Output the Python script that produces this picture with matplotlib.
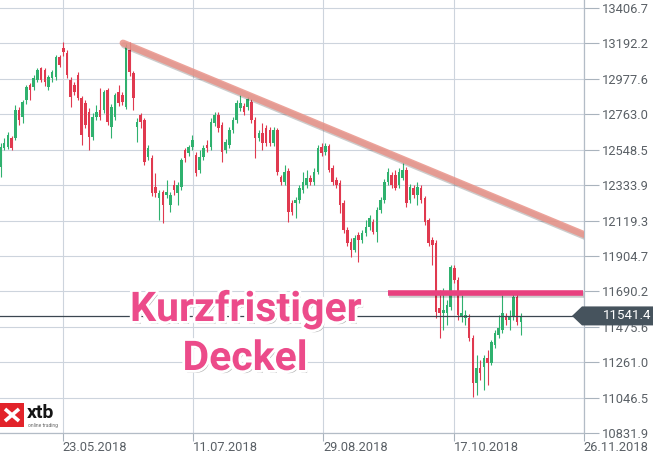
import matplotlib
matplotlib.use("Agg")
import matplotlib.pyplot as plt
import matplotlib.patheffects as pe
from matplotlib.patches import Polygon, Rectangle
import numpy as np

# ---------------- data (DE30 daily candles) ----------------
opens = [12444,12559,12565,12620,12620,12789,12747,12850,12941,12929,
         12971,13044,13032,12929,12983,12989,13111,13165,13135,12971,
         12941,13001,12862,12832,12777,12626,12747,12789,12789,12911,
         12686,12747,12898,12880,12808,13153,13014,12686,12759,12729,
         12505,12498,12323,12256,12292,12274,12214,12335,12286,12323,
         12547,12529,12565,12517,12426,12505,12577,12565,12711,12759,
         12698,12547,12577,12668,12729,12801,12814,12808,12838,12729,
         12620,12650,12680,12668,12589,12668,12383,12353,12420,12226,
         12226,12244,12305,12335,12377,12353,12414,12565,12535,12571,
         12438,12365,12347,12226,12062,11989,11941,12032,12001,12044,
         12080,12111,12050,12183,12244,12353,12395,12395,12335,12377,
         12426,12244,12317,12274,12317,12256,12123,12001,11983,11590,
         11559,11559,11596,11832,11759,11535,11529,11529,11408,11135,
         11226,11232,11286,11256,11365,11426,11456,11541,11517,11535,
         11656,11505]
highs = [12589,12620,12656,12632,12820,12808,12850,12941,12953,13001,
         13044,13050,13044,13001,13032,13123,13123,13201,13153,12989,
         12959,13020,12874,12850,12801,12771,12820,12923,12911,12923,
         12826,12892,12941,12898,13189,13201,13026,12741,12771,12741,
         12577,12517,12408,12305,12305,12365,12292,12365,12353,12498,
         12559,12577,12638,12535,12547,12577,12608,12741,12777,12777,
         12717,12614,12686,12747,12850,12880,12832,12868,12856,12747,
         12668,12711,12698,12686,12686,12680,12395,12456,12438,12244,
         12262,12335,12414,12426,12395,12438,12577,12589,12589,12583,
         12456,12383,12365,12244,12080,12014,12032,12050,12062,12123,
         12153,12129,12202,12262,12371,12438,12414,12426,12438,12468,
         12444,12341,12335,12353,12335,12268,12135,12020,12001,11699,
         11711,11638,11850,11850,11777,11668,11577,11553,11426,11305,
         11274,11305,11335,11396,11456,11547,11668,11559,11577,11674,
         11674,11559]
lows = [12383,12547,12553,12547,12608,12698,12711,12826,12850,12911,
        12959,12959,12935,12911,12959,12971,13050,13117,12983,12808,
        12880,12850,12577,12680,12547,12608,12729,12729,12771,12698,
        12620,12729,12814,12820,12795,12995,12789,12595,12680,12456,
        12486,12268,12262,12123,12105,12256,12171,12274,12214,12305,
        12474,12511,12547,12389,12408,12486,12535,12547,12692,12656,
        12474,12529,12559,12650,12711,12783,12759,12789,12711,12498,
        12601,12547,12571,12571,12571,12395,12335,12335,12111,12153,
        12135,12226,12286,12317,12335,12335,12402,12511,12517,12414,
        12335,12317,12165,12044,11965,11899,11929,11868,11983,12026,
        12062,12038,11989,12165,12226,12335,12317,12305,12317,12365,
        12202,12226,12256,12214,12226,12092,11965,11850,11529,11408,
        11456,11486,11577,11741,11517,11505,11486,11390,11050,11062,
        11153,11093,11123,11244,11347,11408,11438,11486,11456,11517,
        11486,11426]
closes = [12565,12589,12638,12559,12789,12729,12838,12929,12911,12983,
          13032,12971,12959,12989,13020,13111,13062,13141,13001,12868,
          12898,12862,12638,12698,12626,12747,12777,12747,12898,12717,
          12808,12880,12832,12838,13171,13020,12862,12717,12717,12474,
          12559,12286,12286,12286,12214,12292,12274,12305,12335,12486,
          12498,12565,12608,12408,12505,12559,12559,12717,12759,12680,
          12535,12595,12668,12729,12832,12832,12777,12856,12729,12620,
          12650,12589,12589,12589,12668,12414,12353,12414,12171,12171,
          12244,12317,12353,12377,12353,12414,12559,12529,12571,12426,
          12353,12335,12214,12062,11983,11941,12014,12001,12044,12080,
          12135,12050,12183,12244,12353,12414,12335,12317,12414,12426,
          12226,12323,12274,12323,12244,12111,11983,11971,11565,11559,
          11577,11608,11838,11759,11547,11559,11547,11408,11135,11226,
          11196,11286,11256,11383,11438,11468,11559,11517,11541,11656,
          11505,11541.4]

date_labels = ["23.05.2018", "11.07.2018", "29.08.2018", "17.10.2018", "26.11.2018"]
price_labels = ["10831.9", "11046.5", "11261.0", "11475.6", "11690.2", "11904.7", "12119.3",
                "12333.9", "12548.5", "12763.0", "12977.6", "13192.2", "13406.7"]

# hand-drawn annotations (index, price)
trend_idx = [33.2, 158.1]
trend_val = [13195, 12035]
lid_idx = [105.0, 157.9]
lid_val = [11680, 11680]
lid_text = ["Kurzfristiger", "Deckel"]

# ---------------- styling ----------------
GREEN = "#2fb16e"
RED = "#e0394f"
GRID = "#cdd4dd"
TICKC = "#5a6066"

W, H = 653, 453
fig = plt.figure(figsize=(W / 100, H / 100), dpi=100)
fig.patch.set_facecolor("white")
ax = fig.add_axes([0, 20 / H, 584 / W, 433 / H])
ax.set_facecolor("white")

n = len(closes)
x = np.arange(n)
o = np.array(opens, float); c = np.array(closes, float)
hi = np.array(highs, float); lo = np.array(lows, float)
up = c >= o
cols = np.where(up, GREEN, RED)

ax.vlines(x, lo, hi, colors=cols, lw=0.8, zorder=3)
body_bottom = np.minimum(o, c)
body_h = np.maximum(np.abs(c - o), 6)
ax.bar(x, body_h, bottom=body_bottom, width=0.7, color=cols, edgecolor="none", zorder=4)

ax.set_xlim(-0.14, 158.13)
ax.set_ylim(10831.9, 13455.8)

# y ticks on the right
yt = np.array([float(v) for v in price_labels])
ax.set_yticks(yt)
ax.set_yticklabels(price_labels)
ax.yaxis.tick_right()
ax.tick_params(axis="y", length=11, width=0.8, color="#a9b3bd", pad=2,
               labelsize=9.3, labelcolor=TICKC)
for t in ax.get_yticklabels():
    t.set_fontfamily("Roboto")

# x ticks (equally spaced labels)
xt = 16.9 + 35.3 * np.arange(len(date_labels))
ax.set_xticks(xt)
ax.set_xticklabels(date_labels)
ax.tick_params(axis="x", length=6, width=0.8, color="#a9b3bd", pad=0,
               labelsize=9.3, labelcolor=TICKC)
for t in ax.get_xticklabels():
    t.set_ha("left")
    t.set_fontfamily("Roboto")

ax.grid(True, color=GRID, lw=0.8, zorder=0)
ax.set_axisbelow(True)
for s in ["top", "left"]:
    ax.spines[s].set_visible(False)
for s in ["right", "bottom"]:
    ax.spines[s].set_color("#b3bcc6")
    ax.spines[s].set_linewidth(0.9)

# current price line + tag
last = closes[-1]
ax.axhline(last, color="#3b4650", lw=0.9, zorder=5)
ytr = ax.get_yaxis_transform()
half = 9.5 * (13455.8 - 10831.9) / 433
tag = Polygon([(572 / 584, last), (582 / 584, last + half), (653 / 584, last + half),
               (653 / 584, last - half), (582 / 584, last - half)],
              closed=True, transform=ytr, clip_on=False, facecolor="#46535d",
              edgecolor="none", zorder=20)
ax.add_patch(tag)
ax.text(603 / 584, last, f"{last:.1f}", transform=ytr, ha="left", va="center",
        color="white", fontsize=9.6, family="Roboto", zorder=21, clip_on=False)

# trend line (resistance)
ax.plot(trend_idx, trend_val, color="#e99389", lw=5, alpha=0.85, solid_capstyle="round",
        zorder=6, path_effects=[pe.SimpleLineShadow(offset=(1, -1.5), alpha=0.2), pe.Normal()])
# short term lid
ax.plot(lid_idx, lid_val, color="#e8417f", lw=4, solid_capstyle="butt", zorder=6,
        path_effects=[pe.SimpleLineShadow(offset=(1, -1.5), alpha=0.2), pe.Normal()])

# overlay in pixel coordinates for text annotations and logo
ov = fig.add_axes([0, 0, 1, 1])
ov.set_xlim(0, W)
ov.set_ylim(H, 0)
ov.axis("off")
ov.set_zorder(10)

txt_fx = [pe.SimplePatchShadow(offset=(1.5, -2), shadow_rgbFace="#555555", alpha=0.45),
          pe.Stroke(linewidth=4, foreground="white"), pe.Normal()]
ov.text(246, 321, lid_text[0], ha="center", va="baseline", fontsize=29.5, fontweight="bold",
        family="Roboto", color="#ec4b8a", path_effects=txt_fx)
ov.text(245, 370, lid_text[1], ha="center", va="baseline", fontsize=29.5, fontweight="bold",
        family="Roboto", color="#ec4b8a", path_effects=txt_fx)

# xtb logo
ov.add_patch(Rectangle((0, 403), 24, 24, facecolor="#e2232a", edgecolor="none"))
ov.plot([5, 19], [409, 421], color="white", lw=2.6, solid_capstyle="butt")
ov.plot([5, 19], [421, 409], color="white", lw=2.6, solid_capstyle="butt")
ov.text(27, 418, "xtb", ha="left", va="baseline", fontsize=14, fontweight="bold",
        family="Roboto", color="#151515")
ov.text(28, 423.5, "online trading", ha="left", va="top", fontsize=3.5,
        family="Roboto", color="#666666")

fig.savefig("out.png", dpi=100, facecolor="white")
